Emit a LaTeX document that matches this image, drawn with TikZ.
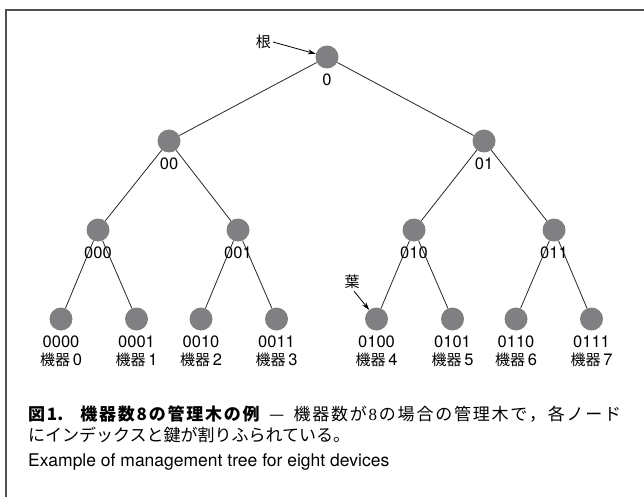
\documentclass[tikz,border=0pt]{standalone}
\usepackage{fontspec}
\setmainfont{TeX Gyre Heros}
\newfontfamily\cjk{Noto Sans CJK JP}
\newfontfamily\serifnum{Liberation Serif}
\usetikzlibrary{arrows.meta}
\definecolor{dotgray}{RGB}{128,128,131}
\definecolor{framegray}{RGB}{80,80,80}
\newcommand{\jg}{\hskip 0pt plus 1pt\relax}
\tikzset{
  dot/.style={circle,fill=dotgray,minimum size=23pt,inner sep=0pt},
  idx/.style={font=\fontsize{16.5}{16.5}\selectfont,inner sep=0pt},
  dev/.style={font=\fontsize{16.5}{16.5}\selectfont,inner sep=0pt},
  tlink/.style={line width=0.8pt,black!85},
  callout/.style={line width=0.8pt,black,-{Stealth[length=8pt,width=5pt]}},
  tag/.style={font=\cjk\fontsize{15}{15}\selectfont,inner sep=0pt},
  captext/.style={anchor=west,inner sep=0pt},
  frameline/.style={line width=1.5pt,framegray}
}
\begin{document}
\begin{tikzpicture}[x=1pt,y=-1pt]
\useasboundingbox (0,0) rectangle (644,497);
\draw[frameline] (6,497) -- (6,10) -- (644,10);

% nodes
\node[dot] (r) at (327,57) {};
\node[dot] (a0) at (169,141) {};
\node[dot] (a1) at (484,141) {};
\node[dot] (b00) at (98,230) {};
\node[dot] (b01) at (238,230) {};
\node[dot] (b10) at (414,230) {};
\node[dot] (b11) at (554,230) {};
\node[dot] (c0) at (61,319) {};
\node[dot] (c1) at (136.5,319) {};
\node[dot] (c2) at (201,319) {};
\node[dot] (c3) at (276.5,319) {};
\node[dot] (c4) at (376.5,319) {};
\node[dot] (c5) at (452.5,319) {};
\node[dot] (c6) at (516,319) {};
\node[dot] (c7) at (591.5,319) {};

% edges
\draw[tlink] (r) -- (a0);
\draw[tlink] (r) -- (a1);
\draw[tlink] (a0) -- (b00);
\draw[tlink] (a0) -- (b01);
\draw[tlink] (a1) -- (b10);
\draw[tlink] (a1) -- (b11);
\draw[tlink] (b00) -- (c0);
\draw[tlink] (b00) -- (c1);
\draw[tlink] (b01) -- (c2);
\draw[tlink] (b01) -- (c3);
\draw[tlink] (b10) -- (c4);
\draw[tlink] (b10) -- (c5);
\draw[tlink] (b11) -- (c6);
\draw[tlink] (b11) -- (c7);

% index labels
\node[idx] (lr) at (327,80) {0};
\node[idx] (la0) at (169,164) {00};
\node[idx] (la1) at (484,164) {01};
\node[idx] (lb00) at (98,253) {000};
\node[idx] (lb01) at (238,253) {001};
\node[idx] (lb10) at (414,253) {010};
\node[idx] (lb11) at (554,253) {011};
\node[idx] (lc0) at (61,342) {0000};
\node[idx] (lc1) at (136.5,342) {0001};
\node[idx] (lc2) at (201,342) {0010};
\node[idx] (lc3) at (276.5,342) {0011};
\node[idx] (lc4) at (376.5,342) {0100};
\node[idx] (lc5) at (452.5,342) {0101};
\node[idx] (lc6) at (516,342) {0110};
\node[idx] (lc7) at (591.5,342) {0111};

% device labels
\node[dev] (d0) at (61,360) {{\cjk\fontsize{15}{15}\selectfont 機器}\,0};
\node[dev] (d1) at (136.5,360) {{\cjk\fontsize{15}{15}\selectfont 機器}\,1};
\node[dev] (d2) at (201,360) {{\cjk\fontsize{15}{15}\selectfont 機器}\,2};
\node[dev] (d3) at (276.5,360) {{\cjk\fontsize{15}{15}\selectfont 機器}\,3};
\node[dev] (d4) at (376.5,360) {{\cjk\fontsize{15}{15}\selectfont 機器}\,4};
\node[dev] (d5) at (452.5,360) {{\cjk\fontsize{15}{15}\selectfont 機器}\,5};
\node[dev] (d6) at (516,360) {{\cjk\fontsize{15}{15}\selectfont 機器}\,6};
\node[dev] (d7) at (591.5,360) {{\cjk\fontsize{15}{15}\selectfont 機器}\,7};

% callouts
\node[tag,anchor=east] (root) at (271,42) {根};
\draw[callout] (root.east) ++(2,0) coordinate (rs) -- (r);
\node[tag] (leaf) at (352,282) {葉};
\draw[callout] (leaf.south) ++(2,2) coordinate (ls) -- (c4);

% caption
\node[captext] (cap1) at (28,414) {\cjk\fontsize{17}{17}\selectfont\makebox[593pt][s]{{\bfseries 図\jg 1.\hspace{0.9em}\jg 機\jg 器\jg 数\jg 8\jg の\jg 管\jg 理\jg 木\jg の\jg 例}\hspace{0.45em}\jg —\jg\hspace{0.45em}機\jg 器\jg 数\jg が\jg{\serifnum 8}\jg の\jg 場\jg 合\jg の\jg 管\jg 理\jg 木\jg で\jg ，\jg 各\jg ノ\jg ー\jg ド}};
\node[captext] (cap2) at (28,435) {\cjk\fontsize{17}{17}\selectfont にインデックスと鍵が割りふられている。};
\node[captext] (cap3) at (28,462) {\fontsize{17.5}{17.5}\selectfont Example of management tree for eight devices};
\end{tikzpicture}
\end{document}
